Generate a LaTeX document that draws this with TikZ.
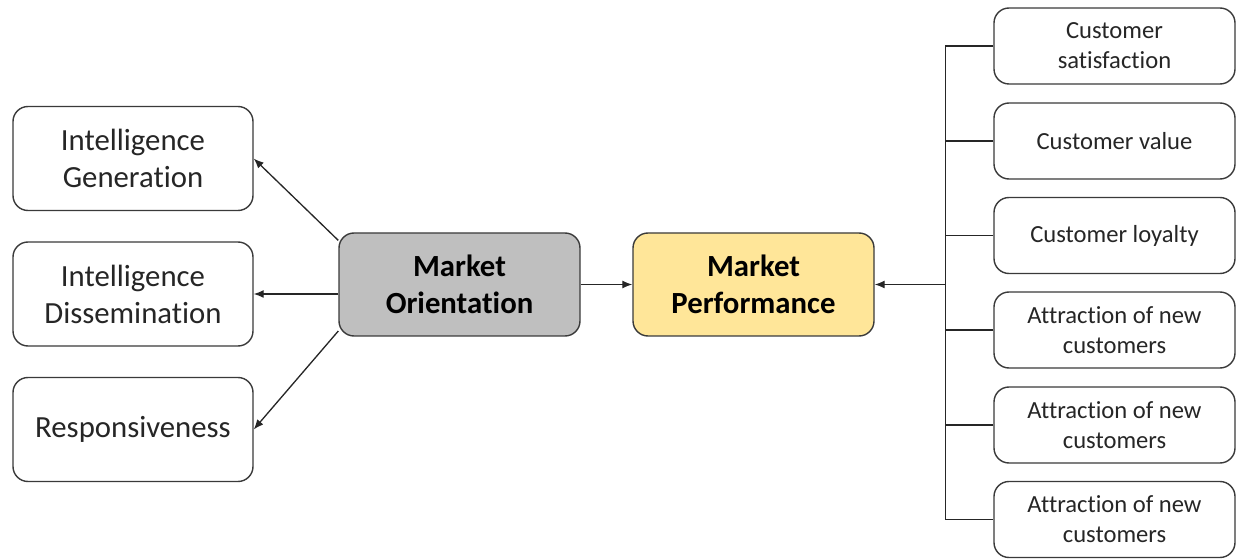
\documentclass[tikz,border=0pt]{standalone}
\usepackage{fontspec}
\setmainfont{Carlito}[Ligatures=NoCommon]
\usepackage{tikz}
\usetikzlibrary{arrows.meta,positioning}
\definecolor{boxline}{HTML}{3A3A3A}
\definecolor{textdark}{HTML}{262626}
\definecolor{softgray}{HTML}{BFBFBF}
\definecolor{softgold}{HTML}{FFE699}
\tikzset{
  dimbox/.style={draw=boxline,line width=0.8pt,rounded corners=3mm,fill=white,minimum width=4.8cm,minimum height=2.08cm,align=center,font=\fontsize{17.5}{21}\selectfont,text=textdark},
  corebox/.style={draw=boxline,line width=0.8pt,rounded corners=3mm,minimum width=4.82cm,minimum height=2.06cm,align=center,font=\fontsize{17.5}{21}\selectfont\bfseries,text=black},
  itembox/.style={draw=boxline,line width=0.8pt,rounded corners=3mm,fill=white,minimum width=4.82cm,minimum height=1.52cm,align=center,font=\fontsize{14}{17}\selectfont,text=textdark},
  arrow/.style={-{Latex[length=2mm,width=1.6mm]},line width=0.75pt,black!85},
  bus/.style={line width=0.75pt,black!85}
}

\begin{document}
\begin{tikzpicture}
  \useasboundingbox (0,0) rectangle (24.76,-11.18);

  % dimensions of market orientation
  \node[dimbox] (gen) at (2.66,-3.17) {Intelligence\\Generation};
  \node[dimbox] (diss) at (2.66,-5.88) {Intelligence\\Dissemination};
  \node[dimbox] (resp) at (2.66,-8.59) {Responsiveness};

  % core constructs
  \node[corebox,fill=softgray] (mo) at (9.19,-5.69) {Market\\Orientation};
  \node[corebox,fill=softgold] (mp) at (15.07,-5.69) {Market\\Performance};

  % performance indicators
  \node[itembox] (sat) at (22.29,-0.92) {Customer\\satisfaction};
  \node[itembox] (val) at (22.29,-2.82) {Customer value};
  \node[itembox] (loy) at (22.29,-4.71) {Customer loyalty};
  \node[itembox] (newa) at (22.29,-6.60) {Attraction of new\\customers};
  \node[itembox] (newb) at (22.29,-8.50) {Attraction of new\\customers};
  \node[itembox] (newc) at (22.29,-10.39) {Attraction of new\\customers};

  \draw[arrow] (mo.160) -- (gen.east);
  \draw[arrow] (mo.west |- diss.east) -- (diss.east);
  \draw[arrow] (mo.201) -- (resp.east);
  \draw[arrow] (mo) -- (mp);

  % bracket collecting the indicators
  \coordinate (bustop) at ([xshift=-0.96cm]sat.west);
  \coordinate (busbot) at ([xshift=-0.96cm]newc.west);
  \draw[bus] (sat.west) -- (bustop) -- (busbot) -- (newc.west);
  \draw[bus] (val.west) -- (val.west -| bustop);
  \draw[bus] (loy.west) -- (loy.west -| bustop);
  \draw[bus] (newa.west) -- (newa.west -| bustop);
  \draw[bus] (newb.west) -- (newb.west -| bustop);
  \draw[arrow] (mp.east -| bustop) -- (mp.east);
\end{tikzpicture}
\end{document}
